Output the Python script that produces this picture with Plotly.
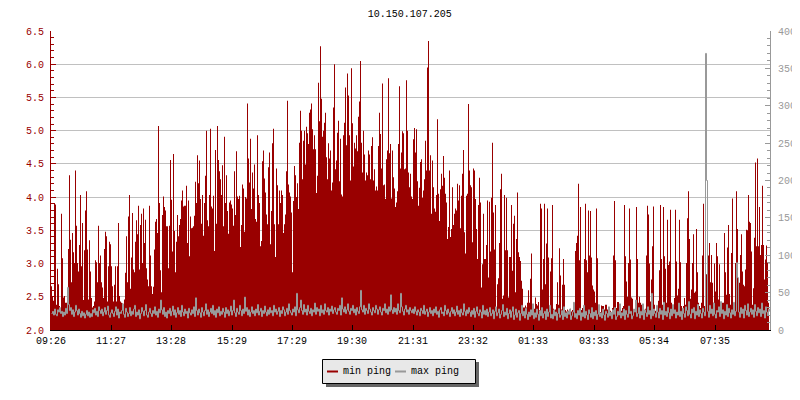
import plotly.graph_objects as go

title = "10.150.107.205"
tick_samples = [0, 60, 120, 181, 241, 301, 362, 422, 482, 543, 603, 664]
tick_labels = ["09:26", "11:27", "13:28", "15:29", "17:29", "19:30", "21:31", "23:32", "01:33", "03:33", "05:34", "07:35"]
series_names = ["min ping", "max ping"]

min_ping = [
 2.66,2.51,2.44,3.91,3.89,2.38,2.92,2.69,2.36,2.32,3.75,3.08,2.49,2.51,2.41,2.41,2.41,3.22,4.33,3.36,
 2.72,3.46,3.17,3.01,4.40,3.57,3.01,2.88,3.28,4.03,2.96,3.61,2.45,3.2,3.8,4.09,3.21,2.46,3.35,2.88,
 2.48,2.34,2.36,2.43,3.05,3.02,2.72,3.57,3.01,3.12,2.72,2.64,2.48,3.22,3.48,3.41,2.43,2.96,3.33,3.29,
 2.96,2.66,2.43,2.68,2.96,2.43,2.96,3.61,2.51,2.43,2.41,2.40,2.34,2.46,2.86,3.41,2.72,3.71,4.03,2.62,
 3.09,3.76,2.91,2.87,3.33,3.65,3.44,3.87,2.91,3.58,3.75,3.01,3.83,3.31,3.66,2.93,2.76,2.66,3.87,3.12,
 2.66,2.54,2.65,3.21,3.63,3.67,3.46,5.07,3.91,2.9,2.57,3.73,4.01,3.85,3.8,3.56,3.56,2.93,3.57,4.56,
 3.96,3.18,4.65,3.49,2.87,3.33,3.73,3.41,3.58,3.67,3.95,4.1,3.86,3.87,3.87,4.17,3.31,3.95,3.11,3.71,
 3.53,3.54,3.56,3.72,4.23,3.91,4.63,4.21,4.55,3.97,3.6,4.03,3.42,3.91,4.32,5.0,3.65,3.56,4.03,5.03,
 3.86,3.83,4.02,3.19,4.71,3.6,5.07,4.56,4.39,4.27,4.03,4.48,3.56,4.91,3.91,4.33,3.79,3.45,3.92,3.95,
 3.89,3.83,3.57,4.39,3.73,4.69,4.01,3.97,4.02,3.25,3.58,4.19,4.13,3.48,4.0,3.98,5.41,4.58,4.22,4.88,
 3.82,4.37,4.13,4.49,3.67,3.63,4.93,4.03,3.91,3.26,3.34,4.54,4.7,4.28,4.07,3.74,3.59,4.45,4.67,3.29,
 3.79,4.81,5.03,3.59,3.1,4.43,4.18,3.59,4.1,3.91,4.1,4.03,3.46,3.59,3.74,4.39,5.45,4.19,4.07,4.01,
 3.77,2.87,3.94,4.47,4.33,4.0,4.21,3.82,4.82,5.3,5.0,4.27,4.85,5.0,4.49,5.06,4.96,4.8,5.27,5.32,
 5.41,5.02,4.72,4.93,4.72,4.06,4.32,5.72,5.14,6.27,5.48,4.91,5.0,5.12,5.27,4.6,4.27,4.81,4.58,4.7,
 4.1,4.22,5.35,6.0,4.42,4.55,4.97,5.15,4.24,4.88,4.04,4.01,4.93,5.12,5.65,4.78,5.86,5.53,4.93,4.25,
 5.94,5.11,4.46,4.82,4.73,4.93,4.69,5.21,5.44,6.05,4.82,4.37,5.0,4.64,4.25,4.37,4.33,4.7,4.64,4.27,
 4.77,4.9,4.25,4.42,4.1,4.16,4.1,4.77,5.27,4.95,4.43,5.71,4.18,4.19,3.97,4.57,4.7,5.79,4.66,4.8,
 3.98,4.7,4.3,4.13,3.85,3.92,4.09,4.8,5.67,4.43,4.67,4.99,4.96,4.42,4.43,5.76,5.0,4.37,4.15,
 4.35,4.01,3.97,4.87,5.04,4.67,5.02,4.24,3.87,4.14,4.53,4.57,3.99,4.1,4.27,4.85,4.4,5.95,6.35,4.4,
 4.63,3.75,4.55,4.15,3.83,3.78,4.03,5.17,4.05,3.64,4.12,4.35,4.17,4.62,4.29,4.05,3.92,3.37,3.55,4.4,
 3.4,3.52,4.15,3.58,3.75,3.83,3.8,4.2,3.95,4.18,3.53,4.02,4.35,4.71,3.47,3.15,4.02,4.05,5.4,4.4,
 4.18,4.15,3.32,4.43,4.4,3.97,3.52,3.07,3.88,4.29,3.92,2.64,2.99,3.75,3.07,3.07,3.28,3.95,2.79,3.93,
 3.18,3.99,4.82,3.77,3.21,3.88,2.34,2.69,2.78,3.31,4.12,4.35,2.47,2.52,4.03,3.2,3.99,3.2,2.49,3.1,
 3.1,3.88,2.89,3.6,3.72,2.57,3.37,4.07,3.17,3.1,3.04,2.74,2.62,2.34,2.34,2.37,2.34,2.41,2.6,2.41,
 2.77,3.15,2.3,2.28,2.32,2.49,2.39,2.37,2.42,2.3,3.9,3.83,2.61,3.07,3.9,2.69,3.3,3.83,3.09,2.3,
 2.88,3.08,3.88,2.32,2.3,2.31,2.39,2.72,2.38,3.23,2.82,2.31,2.68,3.07,2.68,2.3,2.28,2.31,2.29,2.3,
 2.32,2.28,2.3,2.41,2.3,3.19,3.31,3.42,4.2,3.05,3.85,2.3,2.33,2.3,3.07,3.9,3.05,2.87,3.8,3.12,
 3.79,3.09,2.67,2.61,2.58,2.41,3.83,3.08,2.29,2.26,2.27,2.37,2.36,2.36,2.31,2.38,2.38,2.31,2.34,2.32,
 2.29,2.26,2.33,3.12,3.94,3.05,2.33,2.42,2.42,2.31,2.36,2.29,2.33,2.36,3.88,3.11,2.73,2.5,3.01,3.83,
 3.06,2.49,2.47,2.29,2.31,2.36,3.85,3.07,2.41,2.5,2.41,2.38,2.36,2.33,2.29,2.32,3.12,3.87,3.74,3.0,
 2.43,2.76,3.26,3.86,2.38,2.29,2.31,2.36,2.44,2.9,3.88,3.07,2.38,3.85,3.11,2.92,2.41,3.66,2.98,3.03,
 3.81,2.41,2.31,2.36,2.48,3.81,3.03,2.52,2.62,3.66,3.02,2.36,2.29,2.36,2.48,2.38,3.01,3.68,4.09,3.37,
 2.47,2.61,3.01,3.44,2.56,2.58,3.52,2.87,2.41,2.36,2.33,2.41,3.12,3.9,2.36,3.99,2.84,2.84,3.12,3.31,
 2.72,3.13,2.71,2.41,3.0,2.58,3.31,3.11,2.46,2.99,2.38,2.36,2.41,2.41,3.46,2.87,2.53,3.24,3.58,2.54,
 2.38,3.16,3.98,2.38,2.33,3.01,4.09,3.52,2.66,2.71,3.13,3.44,2.88,2.68,2.66,2.91,3.51,3.5,4.03,3.63,
 3.61,3.18,2.38,2.63,3.39,4.52,3.26,4.58,3.26,3.85,3.13,3.28,4.17,3.28,2.76,3.06,3.27,3.01,2.41,3.44
]

max_ping = [
 22,25,20,28,21,19,27,24,30,22,25,18,24,20,29,22,57,34,26,30,
 21,27,18,24,33,26,20,28,22,17,25,19,23,16,21,26,19,24,17,22,
 18,27,23,29,20,25,18,31,26,22,28,19,24,30,21,26,32,20,17,23,
 27,22,18,25,31,20,28,16,24,22,26,35,21,17,29,24,18,22,30,19,
 25,21,28,33,18,24,20,27,15,22,30,25,19,26,34,20,17,24,29,22,
 18,26,22,31,20,25,17,28,23,40,27,21,30,18,24,16,26,22,29,19,
 25,32,20,27,17,23,30,21,26,18,33,24,19,28,22,25,16,29,23,20,
 27,22,31,18,43,26,20,28,23,17,30,24,19,26,35,21,27,18,24,29,
 22,33,20,26,17,28,23,31,19,25,21,29,24,17,30,22,27,19,25,32,
 20,26,40,23,18,29,24,21,33,26,19,28,22,44,25,30,20,27,18,24,
 31,22,26,19,28,23,34,20,25,29,18,26,22,32,24,19,27,21,30,23,
 26,19,33,24,28,21,25,30,18,26,22,31,27,19,24,29,21,35,26,23,
 20,28,24,31,19,49,27,23,30,40,26,21,34,24,28,20,33,25,22,29,
 19,27,24,36,21,30,25,28,19,33,23,27,21,35,26,24,30,20,28,25,
 32,22,27,30,24,21,29,26,33,20,43,28,24,31,22,27,35,25,21,29,
 26,33,23,28,20,30,25,22,31,53,27,24,33,21,29,26,22,35,28,24,
 20,30,26,23,33,28,21,27,31,24,20,29,26,35,23,28,21,31,25,47,
 27,22,30,24,29,21,35,26,23,49,31,25,20,28,33,24,27,21,30,26,
 23,28,22,31,25,20,27,24,19,29,26,22,33,21,25,28,18,24,30,22,
 26,19,28,23,31,21,25,17,27,30,22,24,19,33,26,21,28,23,18,25,
 30,22,27,19,24,32,21,26,18,28,23,20,35,25,19,27,22,30,24,18,
 26,21,29,17,25,31,22,19,27,24,16,33,21,26,20,28,18,24,30,19,
 22,27,15,25,31,19,23,28,16,21,26,34,18,24,20,29,15,22,27,17,
 25,31,14,20,28,17,23,26,13,22,33,19,25,16,29,21,14,24,18,27,
 20,35,15,23,17,28,21,13,26,19,30,16,22,25,14,28,18,24,33,16,
 21,15,27,19,24,13,22,29,17,20,26,14,31,18,23,16,25,21,28,14,
 19,24,37,17,22,15,26,20,29,13,23,18,33,16,25,20,14,27,22,17,
 30,15,24,19,26,14,21,34,18,23,16,28,20,13,25,22,17,31,19,24,
 15,27,21,30,14,18,25,20,35,16,23,19,28,14,26,21,17,32,22,25,
 15,19,28,24,40,18,22,30,16,25,20,35,14,27,23,18,31,21,26,15,
 49,19,28,22,17,33,24,16,29,21,26,14,37,20,25,18,30,23,15,28,
 19,34,22,27,16,24,20,36,18,25,14,29,22,17,31,26,19,38,21,16,
 28,23,30,15,25,20,34,18,27,22,16,29,24,19,370,200,25,17,33,22,
 28,19,36,21,16,26,24,31,18,38,22,27,15,25,20,34,18,29,23,16,
 27,21,37,19,25,90,70,24,17,30,22,28,16,33,26,20,35,18,24,29,
 21,27,17,34,25,19,30,23,28,18,36,22,26,16,31,24,20,28,25,22
]

sample_index = list(range(len(min_ping)))

RED = "#990000"
GRAY = "#999999"
FONT = "Liberation Mono"

fig = go.Figure()
fig.add_trace(go.Scatter(x=sample_index, y=min_ping, mode="none", line_shape="hv",
                         fill="tozeroy", fillcolor=RED, showlegend=False, name=series_names[0]))
# Each sample fills one pixel column; the gray line runs down the column's centre.
fig.add_trace(go.Scatter(x=[i + 0.5 for i in range(len(max_ping))], y=max_ping, mode="lines",
                         line=dict(color=GRAY, width=1, shape="hv"),
                         yaxis="y2", showlegend=False, name=series_names[1]))

# The page body has an 8 px margin: the figure's own frame starts at (8, 8).
OFF = 8
W, H = 800 - OFF, 400 - OFF
L, R, T, B = 51 - OFF, 770 - OFF, 31 - OFF, 330 - OFF
px = lambda v: (v - OFF - L) / (R - L)
py = lambda v: (B - (v - OFF)) / (B - T)


def rect(x0, x1, y0, y1, fill, line=None):
    return dict(type="rect", xref="paper", yref="paper", x0=px(x0), x1=px(x1), y0=py(y0), y1=py(y1),
                fillcolor=fill, line=dict(color=line or fill, width=1 if line else 0), layer="above")


def legend_text(x, name):
    return dict(text=name, xref="paper", yref="paper", x=px(x), y=py(371), xanchor="left", yanchor="middle",
                showarrow=False, xshift=0, font=dict(family=FONT, size=10, color="black"))


fig.update_layout(
    width=W, height=H, autosize=False,
    margin=dict(l=L, r=W - R, t=T, b=H - B),
    paper_bgcolor="white", plot_bgcolor="white",
    font=dict(family=FONT, size=10, color="black"),
    title=dict(text=title, x=0.499, xref="paper", xanchor="center", y=1 - (13 - OFF) / H, yanchor="middle",
               font=dict(family=FONT, size=10, color="black"), automargin=False),
    xaxis=dict(range=[0, 719], tickmode="array", tickvals=tick_samples, ticktext=tick_labels,
               automargin=False,
               ticks="inside", ticklen=5, tickcolor="black", tickwidth=1, showgrid=False,
               showline=True, linecolor="black", linewidth=1, zeroline=False, ticklabelstandoff=1,
               tickfont=dict(family=FONT, size=10, color="black")),
    yaxis=dict(range=[2, 6.5], tick0=2, dtick=0.5, tickformat=".1f", ticks="inside", ticklen=5,
               automargin=False,
               tickcolor=RED, tickwidth=1, showline=True, linecolor=RED, linewidth=1,
               showgrid=True, gridcolor="#c0c0c0", gridwidth=1, zeroline=False,
               tickfont=dict(family=FONT, size=10, color=RED), ticklabelstandoff=4,
               minor=dict(dtick=0.1, ticks="inside", ticklen=3, tickcolor=RED, tickwidth=1, showgrid=False)),
    yaxis2=dict(range=[0, 400], overlaying="y", side="right", tick0=0, dtick=50, ticks="inside", ticklen=5,
                automargin=False,
                tickcolor=GRAY, tickwidth=1, showline=True, linecolor=GRAY, linewidth=1,
                showgrid=False, zeroline=False, ticklabelstandoff=5,
                tickfont=dict(family=FONT, size=10, color=GRAY),
                minor=dict(dtick=10, ticks="inside", ticklen=3, tickcolor=GRAY, tickwidth=1, showgrid=False)),
    showlegend=False,
    shapes=[
        rect(326, 479, 362, 387, "#666666"),
        rect(322.5, 475.5, 359.5, 383.5, "#e8e8e8", "black"),
        rect(327, 338, 370.5, 372.5, RED),
        rect(395, 406, 370.5, 372.5, GRAY),
    ],
    annotations=[legend_text(341, series_names[0]), legend_text(409, series_names[1])],
)
fig.write_html("out.html")
